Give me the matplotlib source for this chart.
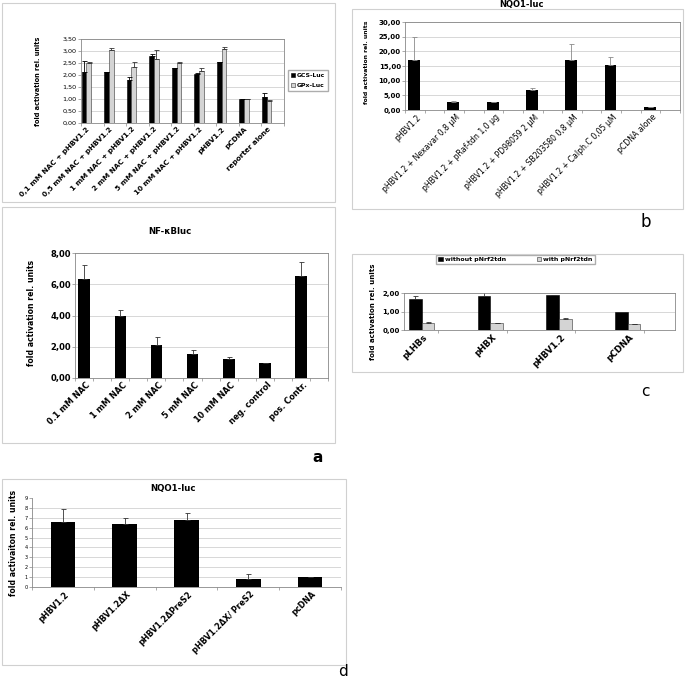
import matplotlib
matplotlib.use("Agg")
import matplotlib.pyplot as plt
from matplotlib.patches import Rectangle
from matplotlib.ticker import FuncFormatter, FixedLocator
import numpy as np

W = H = 685

# top left panel: GCS / GPx
nac_labels = ["0,1 mM NAC + pHBV1.2", "0,5 mM NAC + pHBV1.2", "1 mM NAC + pHBV1.2",
              "2 mM NAC + pHBV1.2", "5 mM NAC + pHBV1.2", "10 mM NAC + pHBV1.2",
              "pHBV1.2", "pCDNA", "reporter alone"]
gcs_vals = [2.14, 2.11, 1.79, 2.80, 2.28, 2.03, 2.56, 1.00, 1.08]
gcs_err = [0.46, 0.02, 0.14, 0.07, 0.02, 0.07, 0.0, 0.0, 0.19]
gpx_vals = [2.52, 3.03, 2.35, 2.66, 2.49, 2.18, 3.08, 1.00, 0.91]
gpx_err = [0.02, 0.08, 0.18, 0.39, 0.07, 0.13, 0.07, 0.0, 0.03]

# panel a: NF-kB
nfkb_labels = ["0.1 mM NAC", "1 mM NAC", "2 mM NAC", "5 mM NAC", "10 mM NAC",
               "neg. control", "pos. Contr."]
nfkb_vals = [6.35, 3.94, 2.13, 1.53, 1.19, 0.98, 6.50]
nfkb_err = [0.86, 0.39, 0.51, 0.24, 0.13, 0.0, 0.90]

# panel b: NQO1 with inhibitors
nqo1_labels = ["pHBV1.2", "pHBV1.2 + Nexavar 0,8 µM", "pHBV1.2 + pRaf-tdn 1,0 µg",
               "pHBV1.2 + PD98059 2 µM", "pHBV1.2 + SB203580 0,8 µM",
               "pHBV1.2 + Calph.C 0,05 µM", "pCDNA alone"]
nqo1_vals = [17.1, 2.85, 2.6, 6.85, 16.9, 15.4, 1.1]
nqo1_err = [7.8, 0.25, 0.0, 0.5, 5.7, 2.6, 0.0]

# panel c: Nrf2 dominant negative
nrf_labels = ["pLHBs", "pHBX", "pHBV1.2", "pCDNA"]
without_vals = [1.70, 1.82, 1.87, 1.00]
without_err = [0.13, 0.22, 0.03, 0.0]
with_vals = [0.39, 0.36, 0.58, 0.33]
with_err = [0.02, 0.03, 0.07, 0.0]

# panel d: HBV mutants
mut_labels = ["pHBV1.2", "pHBV1.2ΔX", "pHBV1.2ΔPreS2", "pHBV1.2ΔX/ PreS2", "pcDNA"]
mut_vals = [6.55, 6.42, 6.80, 0.85, 1.05]
mut_err = [1.35, 0.60, 0.70, 0.50, 0.0]

GRID = "#c8c8c8"
FRAME = "#888888"
comma = FuncFormatter(lambda v, p: f"{v:.2f}".replace(".", ","))


def rect(x0, y0, x1, y1):
    """Pixel box -> figure fraction."""
    return [x0 / W, 1 - y1 / H, (x1 - x0) / W, (y1 - y0) / H]


def box(fig, x0, y0, x1, y1):
    fig.patches.append(Rectangle((x0 / W, 1 - y1 / H), (x1 - x0) / W, (y1 - y0) / H,
                                 transform=fig.transFigure, fill=False,
                                 edgecolor="#d0d0d0", lw=0.8))


def style(ax, ymax, ystep, minor, fs, bold=True):
    ax.set_ylim(0, ymax)
    ax.set_yticks(np.arange(0, ymax + 0.001, ystep))
    ax.yaxis.grid(True, color=GRID, lw=0.5)
    ax.set_axisbelow(True)
    for s in ax.spines.values():
        s.set_color(FRAME)
        s.set_linewidth(0.6)
    ax.xaxis.set_minor_locator(FixedLocator(minor))
    ax.tick_params(axis="x", which="major", length=0, pad=2)
    ax.tick_params(axis="x", which="minor", length=2, color=FRAME, width=0.5)
    ax.tick_params(axis="y", length=2, color=FRAME, width=0.5, pad=1, labelsize=fs)
    ax.yaxis.set_major_formatter(comma)
    for t in ax.get_yticklabels():
        t.set_fontweight("bold" if bold else "normal")


def xlabels(ax, pos, labels, fs, bold=True):
    ax.set_xticks(pos)
    ax.set_xticklabels(labels, rotation=45, ha="right", rotation_mode="anchor",
                       fontsize=fs, fontweight="bold" if bold else "normal")


def errs(ax, x, v, e, color="k"):
    ax.errorbar(x, v, yerr=[np.zeros(len(e)), e], fmt="none", ecolor=color,
                elinewidth=0.6, capsize=1.8, capthick=0.6)


fig = plt.figure(figsize=(6.85, 6.85), dpi=100)

# ---- top left
box(fig, 2, 3, 335, 202)
ax = fig.add_axes(rect(81, 39, 284, 123))
x = np.arange(len(nac_labels))
b1 = ax.bar(x - 0.37, gcs_vals, 0.21, color="black", edgecolor="black", lw=0.4, label="GCS-Luc")
b2 = ax.bar(x - 0.16, gpx_vals, 0.21, color="#d4d4d4", edgecolor="#333333", lw=0.4, label="GPx-Luc")
errs(ax, x - 0.37, gcs_vals, gcs_err)
errs(ax, x - 0.16, gpx_vals, gpx_err, "#333333")
ax.set_xlim(-0.5, len(x) - 0.5)
style(ax, 3.5, 0.5, np.arange(-0.5, len(x), 1.0), 4.6, bold=False)
xlabels(ax, x - 0.25, nac_labels, 5.2)
fig.text(38 / W, 1 - 81 / H, "fold activation rel. units", rotation=90, ha="center",
         va="center", fontsize=4.8, fontweight="bold")
ax.legend(handles=[b1, b2], loc="upper left", bbox_to_anchor=(288 / W, 1 - 70 / H),
          bbox_transform=fig.transFigure, prop={"size": 4.4, "weight": "bold"},
          frameon=True, fancybox=False, edgecolor="#999999", borderpad=0.5,
          handlelength=0.7, handleheight=0.7, handletextpad=0.3, labelspacing=0.7,
          borderaxespad=0)

# ---- panel a
box(fig, 2, 207, 335, 443)
ax = fig.add_axes(rect(75, 253, 328, 378))
x = np.arange(len(nfkb_labels))
ax.bar(x - 0.245, nfkb_vals, 0.32, color="black")
errs(ax, x - 0.245, nfkb_vals, nfkb_err, "#333333")
ax.set_xlim(-0.5, len(x) - 0.5)
style(ax, 8, 2, np.arange(-0.5, len(x), 0.5), 6)
xlabels(ax, x - 0.2, nfkb_labels, 5.9)
fig.text(170 / W, 1 - 231 / H, "NF-κBluc", ha="center", va="center", fontsize=6.2,
         fontweight="bold")
fig.text(32 / W, 1 - 313 / H, "fold activation rel. units", rotation=90, ha="center",
         va="center", fontsize=5.6, fontweight="bold")
fig.text(318 / W, 1 - 457 / H, "a", ha="center", va="center", fontsize=11, fontweight="bold")

# ---- panel b
box(fig, 352, 9, 683, 209)
ax = fig.add_axes(rect(405, 22, 680, 110))
x = np.arange(len(nqo1_labels))
ax.bar(x - 0.27, nqo1_vals, 0.3, color="black")
errs(ax, x - 0.27, nqo1_vals, nqo1_err, "#8a8a8a")
ax.set_xlim(-0.5, len(x) - 0.5)
style(ax, 30, 5, np.arange(-0.5, len(x), 0.5), 5)
xlabels(ax, x - 0.22, nqo1_labels, 5.6, bold=False)
fig.text(522 / W, 1 - 5 / H, "NQO1-luc", ha="center", va="center", fontsize=6,
         fontweight="bold")
fig.text(367 / W, 1 - 62 / H, "fold activation rel. units", rotation=90, ha="center",
         va="center", fontsize=4.4, fontweight="bold")
fig.text(646 / W, 1 - 222 / H, "b", ha="center", va="center", fontsize=12)

# ---- panel c
box(fig, 352, 254, 683, 372)
ax = fig.add_axes(rect(404, 293, 675, 330))
x = np.arange(len(nrf_labels))
c1 = ax.bar(x - 0.33, without_vals, 0.185, color="black", edgecolor="black", lw=0.4,
            label="without pNrf2tdn")
c2 = ax.bar(x - 0.145, with_vals, 0.185, color="#d4d4d4", edgecolor="#333333", lw=0.4,
            label="with pNrf2tdn")
errs(ax, x - 0.33, without_vals, without_err, "#333333")
errs(ax, x - 0.145, with_vals, with_err, "#333333")
ax.set_xlim(-0.495, 3.45)
style(ax, 2, 1, x, 5)
xlabels(ax, x - 0.22, nrf_labels, 6.3)
fig.text(373 / W, 1 - 312 / H, "fold activation rel. units", rotation=90, ha="center",
         va="center", fontsize=5, fontweight="bold")
ax.legend(handles=[c1, c2], loc="center", ncol=2,
          bbox_to_anchor=(419 / W, 1 - 265 / H, 193 / W, 11 / H),
          bbox_transform=fig.transFigure, prop={"size": 4.5, "weight": "bold"},
          frameon=True, fancybox=False, edgecolor="#999999", borderpad=0.35,
          handlelength=0.7, handleheight=0.7, handletextpad=0.3, columnspacing=5,
          borderaxespad=0)
fig.text(645 / W, 1 - 391 / H, "c", ha="center", va="center", fontsize=11)

# ---- panel d
box(fig, 2, 479, 346, 665)
ax = fig.add_axes(rect(32, 498, 341, 587))
x = np.arange(len(mut_labels))
ax.bar(x, mut_vals, 0.4, color="black")
errs(ax, x, mut_vals, mut_err, "#333333")
ax.set_xlim(-0.5, len(x) - 0.5)
ax.set_ylim(0, 9)
ax.set_yticks(range(10))
for yv in range(1, 9):
    ax.axhline(yv, color=GRID, lw=0.5, zorder=0)
for side in ("top", "right"):
    ax.spines[side].set_visible(False)
for side in ("left", "bottom"):
    ax.spines[side].set_color(FRAME)
    ax.spines[side].set_linewidth(0.6)
ax.xaxis.set_minor_locator(FixedLocator(np.arange(-0.5, len(x), 1.0)))
ax.tick_params(axis="x", which="major", length=0, pad=2)
ax.tick_params(axis="x", which="minor", length=2, color=FRAME, width=0.5)
ax.tick_params(axis="y", length=2, color=FRAME, width=0.5, pad=1, labelsize=3.6)
xlabels(ax, x + 0.02, mut_labels, 5.8)
fig.text(173 / W, 1 - 488 / H, "NQO1-luc", ha="center", va="center", fontsize=6.2,
         fontweight="bold")
fig.text(14 / W, 1 - 543 / H, "fold activaiton rel. units", rotation=90, ha="center",
         va="center", fontsize=5.6, fontweight="bold")
fig.text(343 / W, 1 - 672 / H, "d", ha="center", va="center", fontsize=11)

fig.savefig("out.png", dpi=100)
